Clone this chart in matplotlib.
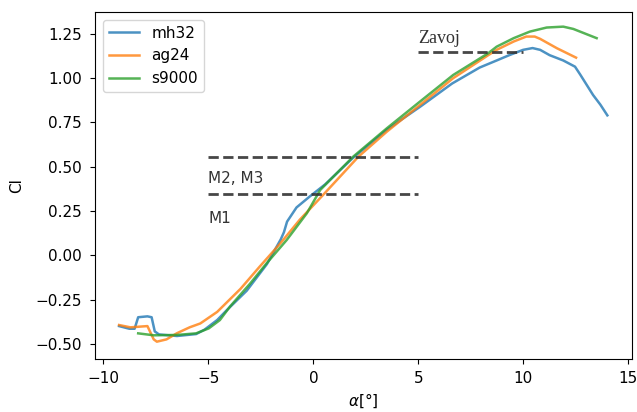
import matplotlib
matplotlib.use("Agg")
import matplotlib.pyplot as plt

plt.rcParams['font.size'] = 11

# mh32
mh32_alpha = [-9.25, -8.76, -8.51, -8.34, -7.9, -7.7, -7.55, -7.35, -6.49, -5.58, -5.18, -4.58,
              -4.12, -3.17, -2.21, -1.55, -1.40, -1.25, -0.80, -0.19, 0.56, 1.87, 3.49, 5.10,
              6.61, 7.92, 8.73, 9.33, 9.99, 10.44, 10.8, 11.25, 11.9, 12.46, 12.71, 13.32,
              13.67, 14.0]
mh32_cl = [-0.40, -0.415, -0.415, -0.35, -0.345, -0.35, -0.43, -0.447, -0.456, -0.445, -0.42,
           -0.366, -0.31, -0.20, -0.05, 0.09, 0.13, 0.19, 0.27, 0.33, 0.40, 0.548, 0.708, 0.84,
           0.97, 1.06, 1.10, 1.13, 1.16, 1.17, 1.16, 1.13, 1.10, 1.065, 1.02, 0.905, 0.85, 0.79]

# ag24
ag24_alpha = [-9.25, -8.71, -7.9, -7.6, -7.45, -6.99, -6.49, -5.89, -5.38, -4.58, -3.47, -2.56,
              -1.55, -0.65, 0.46, 2.15, 3.5, 5.08, 6.66, 8.33, 8.73, 9.54, 10.14, 10.54, 10.8,
              11.6, 12.51]
ag24_cl = [-0.394, -0.407, -0.40, -0.475, -0.488, -0.475, -0.44, -0.407, -0.385, -0.32, -0.19,
           -0.065, 0.07, 0.20, 0.34, 0.557, 0.698, 0.849, 1.0, 1.13, 1.16, 1.207, 1.235, 1.235,
           1.222, 1.169, 1.116]

# s9000
s9000_alpha = [-8.34, -7.6, -6.49, -5.58, -4.98, -4.45, -3.97, -3.01, -2.22, -1.27, -0.31, 0.33,
               1.9, 3.5, 5.08, 6.66, 8.33, 8.73, 9.54, 10.31, 11.11, 11.9, 12.38, 13.49]
s9000_cl = [-0.441, -0.452, -0.45, -0.441, -0.413, -0.366, -0.29, -0.16, -0.045, 0.086, 0.237,
            0.369, 0.557, 0.717, 0.868, 1.018, 1.141, 1.178, 1.226, 1.263, 1.286, 1.291, 1.278,
            1.226]

# reference levels
m1_level = 0.344
m23_level = 0.557
zavoj_level = 1.15

fig = plt.figure(figsize=(6.37, 4.12), dpi=100)
ax = fig.add_axes([0.149, 0.129, 0.8427, 0.842])

ax.plot(mh32_alpha, mh32_cl, color='tab:blue', lw=1.8, alpha=0.8, label='mh32')
ax.plot(ag24_alpha, ag24_cl, color='tab:orange', lw=1.8, alpha=0.8, label='ag24')
ax.plot(s9000_alpha, s9000_cl, color='tab:green', lw=1.8, alpha=0.8, label='s9000')

ax.plot([-5, 5], [m1_level, m1_level], '--', color='#333333', lw=2, alpha=0.9)
ax.plot([-5, 5], [m23_level, m23_level], '--', color='#333333', lw=2, alpha=0.9)
ax.plot([5, 10], [zavoj_level, zavoj_level], '--', color='#333333', lw=2, alpha=0.9)

ax.text(-5, 0.41, 'M2, M3', fontsize=11, color='#333333')
ax.text(-5, 0.18, 'M1', fontsize=11, color='#333333')
ax.text(5, 1.2, 'Zavoj', fontsize=13, color='#333333', family='Liberation Serif')

ax.set_xlim(-10.40, 15.16)
ax.set_ylim(-0.585, 1.374)
ax.set_xticks([-10, -5, 0, 5, 10, 15])
ax.set_yticks([-0.5, -0.25, 0.0, 0.25, 0.5, 0.75, 1.0, 1.25])
ax.tick_params(axis='y', pad=6)
ax.tick_params(axis='x', pad=5)
ax.set_xlabel(r'$\alpha$[°]')
ax.set_ylabel('Cl', labelpad=8)
ax.legend(loc='upper left')

fig.savefig('out.png', dpi=100)
